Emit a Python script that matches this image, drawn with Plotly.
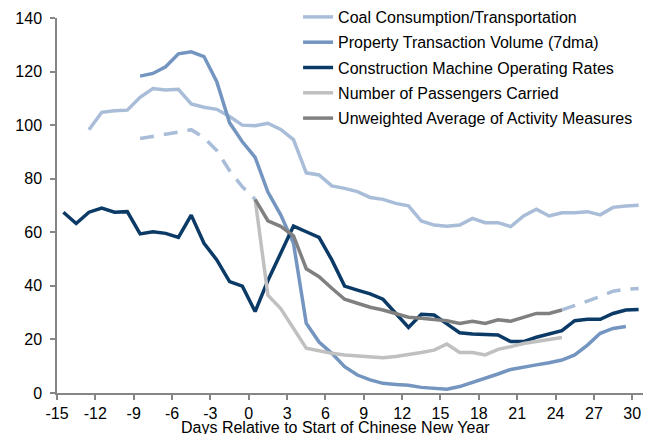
import plotly.graph_objects as go

days = list(range(-15, 31))
N = None

coal = [N, N, 98.3, 104.8, 105.4, 105.6, 110.4, 113.7, 113.1, 113.4, 107.9, 106.7, 105.9, 103.2, 100.0,
        99.8, 100.7, 98.4, 94.6, 82.2, 81.4, 77.3, 76.4, 75.2, 73.0, 72.3, 70.8, 69.9, 64.2, 62.7, 62.3,
        62.7, 65.2, 63.6, 63.6, 62.1, 66.1, 68.6, 66.1, 67.3, 67.3, 67.7, 66.5, 69.3, 69.8, 70.1]

prop = [N, N, N, N, N, N, 118.3, 119.3, 121.8, 126.6, 127.4, 125.6, 116.2, 100.9, 93.8,
        88.0, 75.0, 66.5, 55.9, 26.0, 19.0, 14.8, 9.8, 6.7, 4.9, 3.6, 3.2, 2.9, 2.1, 1.6, 1.4,
        2.4, 3.9, 5.5, 7.1, 8.8, 9.8, 10.5, 11.3, 12.3, 14.2, 17.9, 22.3, 24.1, 24.8, N]

constr = [67.5, 63.3, 67.5, 69.0, 67.5, 67.7, 59.4, 60.2, 59.6, 58.1, 66.4, 55.9, 49.7, 41.6, 39.9,
          30.4, 42.0, 52.0, 62.3, 60.2, 58.1, 49.7, 39.9, 38.4, 37.0, 35.0, 29.7, 24.5, 29.4, 29.1, 25.8,
          22.5, 22.0, 21.7, 21.7, 19.2, 19.2, 20.8, 22.0, 23.3, 27.0, 27.5, 27.5, 29.7, 31.0, 31.2]

passengers = [N] * 15 + [72.3, 36.5, 31.5, 24.0, 16.7, 15.8, 14.8, 14.2, 13.9, 13.6, 13.2, 13.6, 14.2,
                         15.1, 16.0, 18.3, 15.1, 15.1, 14.2, 16.3, 17.3, 18.5, 19.2, 19.8, 20.7] + [N] * 6

average = [N] * 15 + [72.3, 64.3, 62.2, 58.7, 46.4, 43.4, 39.1, 35.0, 33.5, 32.0, 31.0, 29.7, 28.3,
                      27.9, 27.6, 27.0, 26.0, 26.8, 26.0, 27.3, 26.8, 28.3, 29.7, 29.7, 31.0] + [N] * 6

dashed = [N] * 6 + [95.0, 95.7, 96.5, 97.4, 98.3, 95.3, 90.5, 83.0, 77.0, 72.3] + [N] * 23 + \
         [31.0, 32.6, 34.2, 36.0, 38.0, 38.8, 39.0]

tick_days = list(range(-15, 31, 3))
y_ticks = list(range(0, 141, 20))
x_title = "Days Relative to Start of Chinese New Year"

names = ["Coal Consumption/Transportation", "Property Transaction Volume (7dma)",
         "Construction Machine Operating Rates", "Number of Passengers Carried",
         "Unweighted Average of Activity Measures"]
series = [coal, prop, constr, passengers, average]
colors = ["#A9BDD8", "#7395C0", "#0B3A66", "#C0C0C0", "#808080"]

fig = go.Figure()
fig.add_trace(go.Scatter(x=days, y=dashed, mode="lines", showlegend=False,
                         line=dict(color="#A9BDD8", width=3.5, dash="14px,10px"),
                         connectgaps=False, hoverinfo="skip"))
for i, (nm, ys, c) in enumerate(zip(names, series, colors)):
    fig.add_trace(go.Scatter(x=days, y=ys, mode="lines", name=nm, legendgroup=str(i),
                             line=dict(color=c, width=3.5), connectgaps=False))

axis_font = dict(family="Liberation Sans, Arial, sans-serif", size=16, color="#000000")
fig.update_layout(
    width=643, height=426,
    margin=dict(l=49, r=6, t=10, b=41, autoexpand=False),
    paper_bgcolor="white", plot_bgcolor="white",
    font=axis_font,
    showlegend=True,
    legend=dict(x=0.41, y=1.048, xref="paper", yref="paper", xanchor="left", yanchor="top",
                bgcolor="rgba(0,0,0,0)", font=axis_font, tracegroupgap=1.5, traceorder="grouped"),
    xaxis=dict(range=[-15.5, 30.5], tickmode="array",
               tickvals=[d - 0.5 for d in tick_days], ticktext=[str(d) for d in tick_days],
               showgrid=False, zeroline=False, showline=True, linecolor="#868686", linewidth=1.5,
               ticks="outside", ticklen=5, tickcolor="#868686", tickwidth=1.5,
               tickfont=axis_font, automargin=False),
    yaxis=dict(range=[0, 140], tickvals=y_ticks, showgrid=False, zeroline=False,
               showline=True, linecolor="#868686", linewidth=1.5,
               ticks="outside", ticklen=5, tickcolor="#868686", tickwidth=1.5,
               tickfont=axis_font, automargin=False, ticklabelstandoff=5),
    annotations=[dict(text=x_title, xref="paper", yref="paper", x=0.473, y=-0.093,
                      xanchor="center", yanchor="middle", showarrow=False, font=axis_font)],
)

fig.write_html("out.html")
